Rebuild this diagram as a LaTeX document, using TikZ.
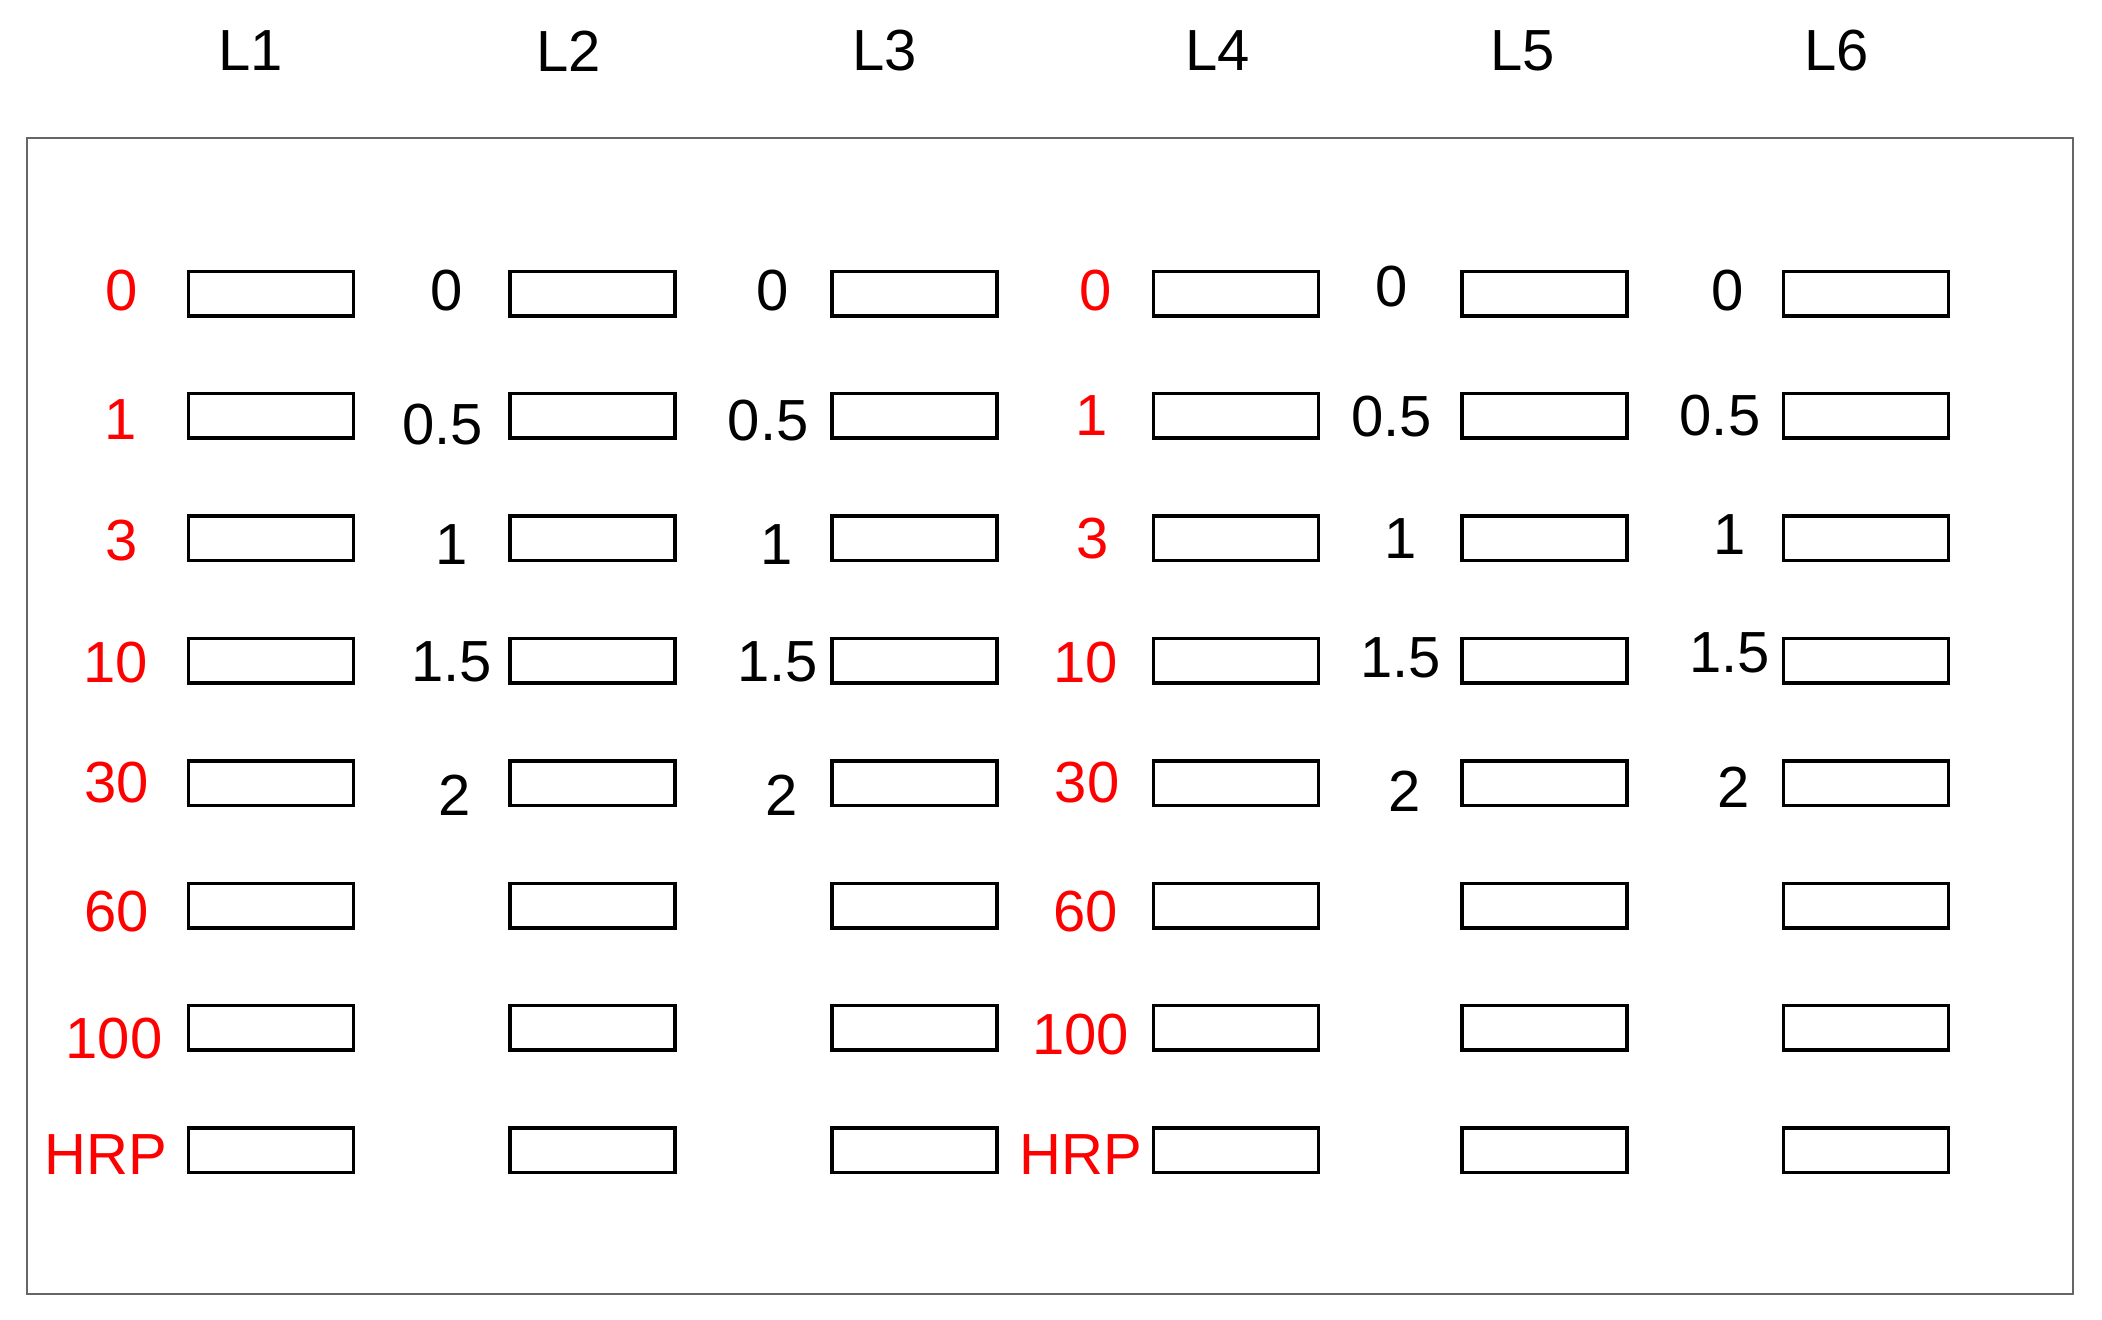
\documentclass[tikz,border=0pt]{standalone}
\usepackage{fontspec}
\setmainfont{Liberation Sans}
\usepackage{xcolor}
\usepackage{tikz}
\usetikzlibrary{positioning}

\begin{document}
\begin{tikzpicture}[transform shape,scale=1,
		well/.style={draw=black,line width=1pt,minimum width=1.65cm,minimum height=0.445cm,inner sep=0pt},
		dose/.style={font=\fontsize{16.5}{19}\selectfont,inner sep=0pt},
		lane/.style={font=\fontsize{16.5}{19}\selectfont,inner sep=0pt}]
		\useasboundingbox (0,0) rectangle (21.02,13.2);
		\draw[black!60,line width=0.6pt] (0.268,0.263) rectangle (20.726,11.819);
		% lane headers
		\node[lane] (lane1) at (2.507,12.69) {L1};
		\node[lane] (lane2) at (5.684,12.69) {L2};
		\node[lane] (lane3) at (8.848,12.69) {L3};
		\node[lane] (lane4) at (12.173,12.69) {L4};
		\node[lane] (lane5) at (15.229,12.69) {L5};
		\node[lane] (lane6) at (18.366,12.69) {L6};
		% wells
		\foreach \c/\x in {1/2.708,2/5.925,3/9.143,4/12.360,5/15.444,6/18.661}
			\foreach \r in {1,...,8}
				\node[well] (w\c-\r) at (\x,{10.264-1.224*(\r-1)}) {};
		% lane 1
		\node[dose,red] (a1) at (1.220,10.291) {0};
		\node[dose,red] (a2) at (1.207,9.004) {1};
		\node[dose,red] (a3) at (1.220,7.797) {3};
		\node[dose,red] (a4) at (1.153,6.577) {10};
		\node[dose,red] (a5) at (1.166,5.371) {30};
		\node[dose,red] (a6) at (1.166,4.084) {60};
		\node[dose,red] (a7) at (1.140,2.810) {100};
		\node[dose,red] (a8) at (1.059,1.657) {HRP};
		% lane 2
		\node[dose] (b1) at (4.464,10.291) {0};
		\node[dose] (b2) at (4.424,8.950) {0.5};
		\node[dose] (b3) at (4.518,7.757) {1};
		\node[dose] (b4) at (4.518,6.577) {1.5};
		\node[dose] (b5) at (4.545,5.250) {2};
		% lane 3
		\node[dose] (c1) at (7.722,10.291) {0};
		\node[dose] (c2) at (7.682,8.991) {0.5};
		\node[dose] (c3) at (7.762,7.757) {1};
		\node[dose] (c4) at (7.775,6.577) {1.5};
		\node[dose] (c5) at (7.816,5.250) {2};
		% lane 4
		\node[dose,red] (d1) at (10.953,10.291) {0};
		\node[dose,red] (d2) at (10.912,9.044) {1};
		\node[dose,red] (d3) at (10.926,7.811) {3};
		\node[dose,red] (d4) at (10.859,6.577) {10};
		\node[dose,red] (d5) at (10.872,5.371) {30};
		\node[dose,red] (d6) at (10.859,4.084) {60};
		\node[dose,red] (d7) at (10.805,2.851) {100};
		\node[dose,red] (d8) at (10.805,1.657) {HRP};
		% lane 5
		\node[dose] (e1) at (13.915,10.331) {0};
		\node[dose] (e2) at (13.915,9.031) {0.5};
		\node[dose] (e3) at (14.009,7.811) {1};
		\node[dose] (e4) at (14.009,6.618) {1.5};
		\node[dose] (e5) at (14.049,5.291) {2};
		% lane 6
		\node[dose] (f1) at (17.280,10.291) {0};
		\node[dose] (f2) at (17.200,9.044) {0.5};
		\node[dose] (f3) at (17.294,7.851) {1};
		\node[dose] (f4) at (17.294,6.671) {1.5};
		\node[dose] (f5) at (17.334,5.331) {2};
	\end{tikzpicture}
\end{document}
